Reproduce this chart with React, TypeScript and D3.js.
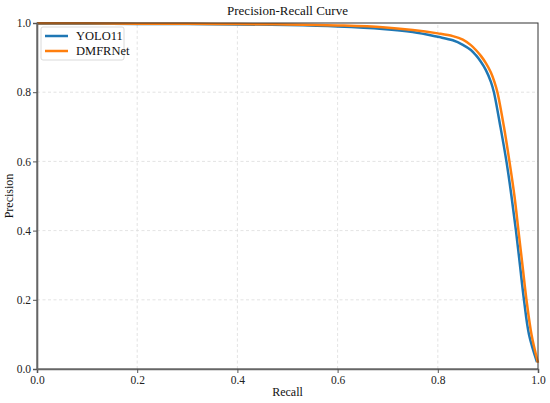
import { useEffect, useRef } from "react";
import * as d3 from "d3";

// Precision-recall points
const recallYolo = [0, 0.1, 0.2, 0.3, 0.4, 0.5, 0.6, 0.69, 0.75, 0.8, 0.83, 0.85, 0.866, 0.876, 0.886, 0.896, 0.906, 0.912, 0.925, 0.937, 0.947, 0.956, 0.964, 0.972, 0.982, 0.998];
const precisionYolo = [0.998, 0.998, 0.997, 0.997, 0.996, 0.994, 0.99, 0.983, 0.974, 0.96, 0.95, 0.937, 0.922, 0.907, 0.888, 0.864, 0.83, 0.8, 0.7, 0.6, 0.5, 0.4, 0.3, 0.2, 0.1, 0.02];

const recallDmfr = [0, 0.1, 0.2, 0.3, 0.4, 0.5, 0.6, 0.69, 0.75, 0.8, 0.83, 0.85, 0.866, 0.876, 0.886, 0.896, 0.906, 0.913, 0.919, 0.932, 0.943, 0.953, 0.961, 0.969, 0.977, 0.987, 1.0];
const precisionDmfr = [0.999, 0.999, 0.998, 0.998, 0.997, 0.996, 0.993, 0.988, 0.98, 0.97, 0.962, 0.952, 0.936, 0.922, 0.905, 0.884, 0.857, 0.83, 0.8, 0.7, 0.6, 0.5, 0.4, 0.3, 0.2, 0.1, 0.018];

const seriesNames = ["YOLO11", "DMFRNet"];
const seriesColors = ["#1f77b4", "#ff7f0e"];
const tickValues = [0, 0.2, 0.4, 0.6, 0.8, 1.0];

export default function App() {
  const svgRef = useRef<SVGSVGElement | null>(null);

  useEffect(() => {
    if (!svgRef.current) return;

    const width = 550;
    const height = 403;
    const margin = { top: 23, right: 12, bottom: 34, left: 37 };
    const font = '"Liberation Serif", "Times New Roman", Times, serif';

    const svg = d3.select(svgRef.current);
    svg.selectAll("*").remove();

    const x = d3.scaleLinear().domain([0, 1]).range([margin.left, width - margin.right]);
    const y = d3.scaleLinear().domain([0, 1]).range([height - margin.bottom, margin.top]);

    // grid
    const grid = svg.append("g").attr("stroke", "#dcdcdc").attr("stroke-width", 0.8).attr("stroke-dasharray", "3,2.5");
    grid.selectAll(".gx")
      .data(tickValues.slice(1, -1))
      .join("line")
      .attr("x1", (d) => x(d))
      .attr("x2", (d) => x(d))
      .attr("y1", y(0))
      .attr("y2", y(1));
    grid.selectAll(".gy")
      .data(tickValues.slice(1, -1))
      .join("line")
      .attr("y1", (d) => y(d))
      .attr("y2", (d) => y(d))
      .attr("x1", x(0))
      .attr("x2", x(1));

    // curves
    const series = [
      recallYolo.map((r, i) => [r, precisionYolo[i]] as [number, number]),
      recallDmfr.map((r, i) => [r, precisionDmfr[i]] as [number, number]),
    ];
    const line = d3
      .line<[number, number]>()
      .x((d) => x(d[0]))
      .y((d) => y(d[1]))
      .curve(d3.curveCatmullRom.alpha(0.5));

    series.forEach((pts, i) => {
      svg.append("path")
        .datum(pts)
        .attr("fill", "none")
        .attr("stroke", seriesColors[i])
        .attr("stroke-width", 2.5)
        .attr("stroke-linejoin", "round")
        .attr("d", line);
    });

    // frame
    svg.append("rect")
      .attr("x", x(0))
      .attr("y", y(1))
      .attr("width", x(1) - x(0))
      .attr("height", y(0) - y(1))
      .attr("fill", "none")
      .attr("stroke", "#333")
      .attr("stroke-width", 1);

    const xAxis = svg.append("g")
      .attr("transform", `translate(0,${y(0)})`)
      .call(d3.axisBottom(x).tickValues(tickValues).tickFormat(d3.format(".1f")).tickSizeOuter(0).tickSize(4));
    const yAxis = svg.append("g")
      .attr("transform", `translate(${x(0)},0)`)
      .call(d3.axisLeft(y).tickValues(tickValues).tickFormat(d3.format(".1f")).tickSizeOuter(0).tickSize(4));

    [xAxis, yAxis].forEach((g) => {
      g.attr("font-family", null).style("font-family", font);
      g.select(".domain").attr("stroke", "#666").attr("stroke-width", 1.6);
      g.selectAll(".tick line").attr("stroke", "#555").attr("stroke-width", 1);
      g.selectAll(".tick text").attr("fill", "#222").style("font-family", font).attr("font-size", 11.5);
    });
    xAxis.selectAll(".tick text").attr("dy", "0.85em").attr("y", 5);
    yAxis.selectAll(".tick text").attr("x", -6);

    svg.append("text")
      .attr("x", (x(0) + x(1)) / 2)
      .attr("y", 15)
      .attr("text-anchor", "middle")
      .style("font-family", font)
      .attr("font-size", 13)
      .attr("fill", "#111")
      .text("Precision-Recall Curve");

    svg.append("text")
      .attr("x", (x(0) + x(1)) / 2)
      .attr("y", 396)
      .attr("text-anchor", "middle")
      .style("font-family", font)
      .attr("font-size", 12)
      .attr("fill", "#111")
      .text("Recall");

    svg.append("text")
      .attr("transform", `translate(13,${(y(0) + y(1)) / 2}) rotate(-90)`)
      .attr("text-anchor", "middle")
      .style("font-family", font)
      .attr("font-size", 12)
      .attr("fill", "#111")
      .text("Precision");

    // legend
    const legend = svg.append("g").attr("transform", `translate(${x(0) + 4},${y(1) + 4})`);
    legend.append("rect")
      .attr("width", 83)
      .attr("height", 33)
      .attr("rx", 2)
      .attr("fill", "white")
      .attr("fill-opacity", 0.85)
      .attr("stroke", "#d0d0d0")
      .attr("stroke-width", 0.8);
    seriesNames.forEach((name, i) => {
      const ly = 9 + i * 15;
      legend.append("line")
        .attr("x1", 4)
        .attr("x2", 27)
        .attr("y1", ly)
        .attr("y2", ly)
        .attr("stroke", seriesColors[i])
        .attr("stroke-width", 2.5);
      legend.append("text")
        .attr("x", 35)
        .attr("y", ly + 4)
        .style("font-family", font)
        .attr("font-size", 12.5)
        .attr("fill", "#111")
        .text(name);
    });
  }, []);

  return (
    <div style={{ width: 550, height: 403 }}>
      <svg ref={svgRef} width={550} height={403} style={{ position: "absolute", left: 0, top: 0 }}></svg>
    </div>
  );
}
